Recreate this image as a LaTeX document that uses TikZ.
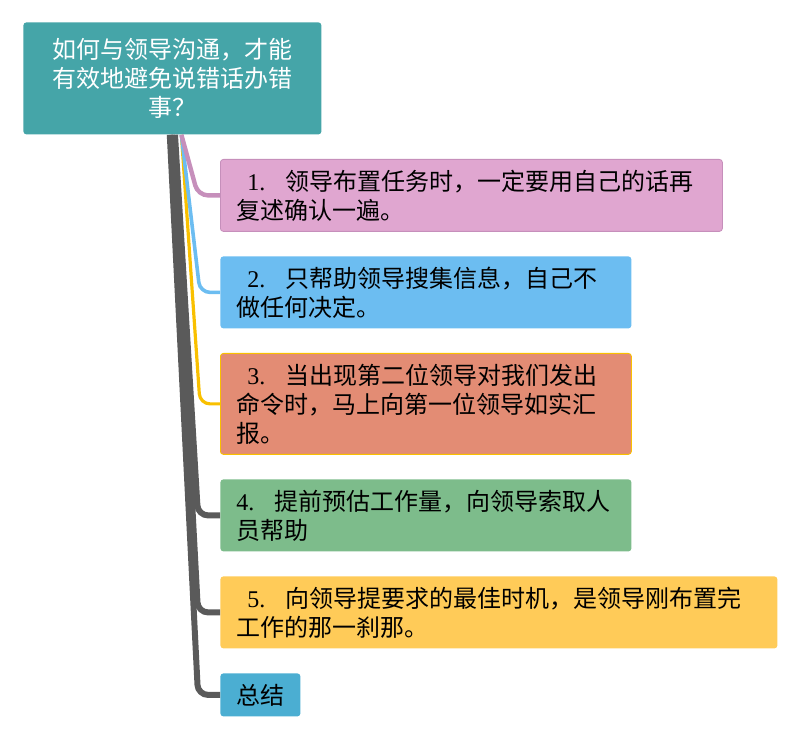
\documentclass[tikz,border=0pt]{standalone}
\usepackage{fontspec}
\setmainfont{Liberation Serif}
\newfontfamily\cjk{Noto Sans CJK SC}
\definecolor{mmroot}{RGB}{69,165,168}
\definecolor{mmpink}{RGB}{224,166,208}
\definecolor{mmpinkline}{RGB}{198,143,187}
\definecolor{mmblue}{RGB}{108,189,241}
\definecolor{mmsalmon}{RGB}{227,140,116}
\definecolor{mmyellowline}{RGB}{249,192,0}
\definecolor{mmgreen}{RGB}{125,188,139}
\definecolor{mmyellow}{RGB}{255,203,88}
\definecolor{mmsum}{RGB}{75,174,210}
\definecolor{mmgray}{RGB}{90,90,90}
\usetikzlibrary{positioning}
\newcommand{\itemno}[1]{\hspace*{5.5pt}{\rmfamily #1.}\hspace{10pt}}

\begin{document}
\begin{tikzpicture}[x=0.5pt, y=-0.5pt,
    rootbox/.style={rectangle, rounded corners=1.5pt, anchor=north west, align=center,
                    fill=mmroot, text=white, inner xsep=8pt,
                    font=\fontsize{12}{14.5}\selectfont\cjk},
    topic/.style={rectangle, rounded corners=1.5pt, anchor=north west, align=left,
                  inner xsep=8pt, text=black, font=\fontsize{12}{14.5}\selectfont\cjk},
    branch/.style={line width=3pt, rounded corners=5pt}
  ]
    \useasboundingbox (0,0) rectangle (800,738);

    % central topic
    \node[rootbox, text width=133pt, minimum height=56pt] (root) at (23,22)
      {如何与领导沟通，才能\\有效地避免说错话办错\\事？};

    % sub topics
    \node[topic, fill=mmpink, draw=mmpinkline, text width=235pt, minimum height=36pt] (t1) at (220,159)
      {\itemno{1}领导布置任务时，一定要用自己的话再\\复述确认一遍。};
    \node[topic, fill=mmblue, text width=189.5pt, minimum height=36pt] (t2) at (220,256)
      {\itemno{2}只帮助领导搜集信息，自己不\\做任何决定。};
    \node[topic, fill=mmsalmon, draw=mmyellowline, text width=189.5pt, minimum height=50.5pt] (t3) at (220,353)
      {\itemno{3}当出现第二位领导对我们发出\\命令时，马上向第一位领导如实汇\\报。};
    \node[topic, fill=mmgreen, text width=189.5pt, minimum height=36pt] (t4) at (220,479)
      {{\rmfamily 4.}\hspace{10pt}提前预估工作量，向领导索取人\\员帮助};
    \node[topic, fill=mmyellow, text width=262.5pt, minimum height=36pt] (t5) at (220,576)
      {\itemno{5}向领导提要求的最佳时机，是领导刚布置完\\工作的那一刹那。};
    \node[topic, fill=mmsum, text width=24pt, minimum height=21.5pt] (sum) at (220,673) {总结};

    % branches
    \draw[branch, mmgray] ([xshift=-1.3pt]root.south) -- ([xshift=-11pt]sum.west) -- (sum.west);
    \draw[branch, mmgray] (root.south) -- ([xshift=-11pt]t5.west) -- (t5.west);
    \draw[branch, mmgray] ([xshift=1.3pt]root.south) -- ([xshift=-11pt]t4.west) -- (t4.west);
    \draw[branch, mmyellowline, line width=1.6pt] ([xshift=4.5pt]root.south) -- ([xshift=-10pt]t3.west) -- (t3.west);
    \draw[branch, mmblue, line width=1.8pt] ([xshift=4.5pt]root.south) -- ([xshift=-10pt]t2.west) -- (t2.west);
    \draw[branch, mmpinkline, line width=2.2pt] ([xshift=4.5pt]root.south) -- ([xshift=-11pt]t1.west) -- (t1.west);
\end{tikzpicture}
\end{document}
